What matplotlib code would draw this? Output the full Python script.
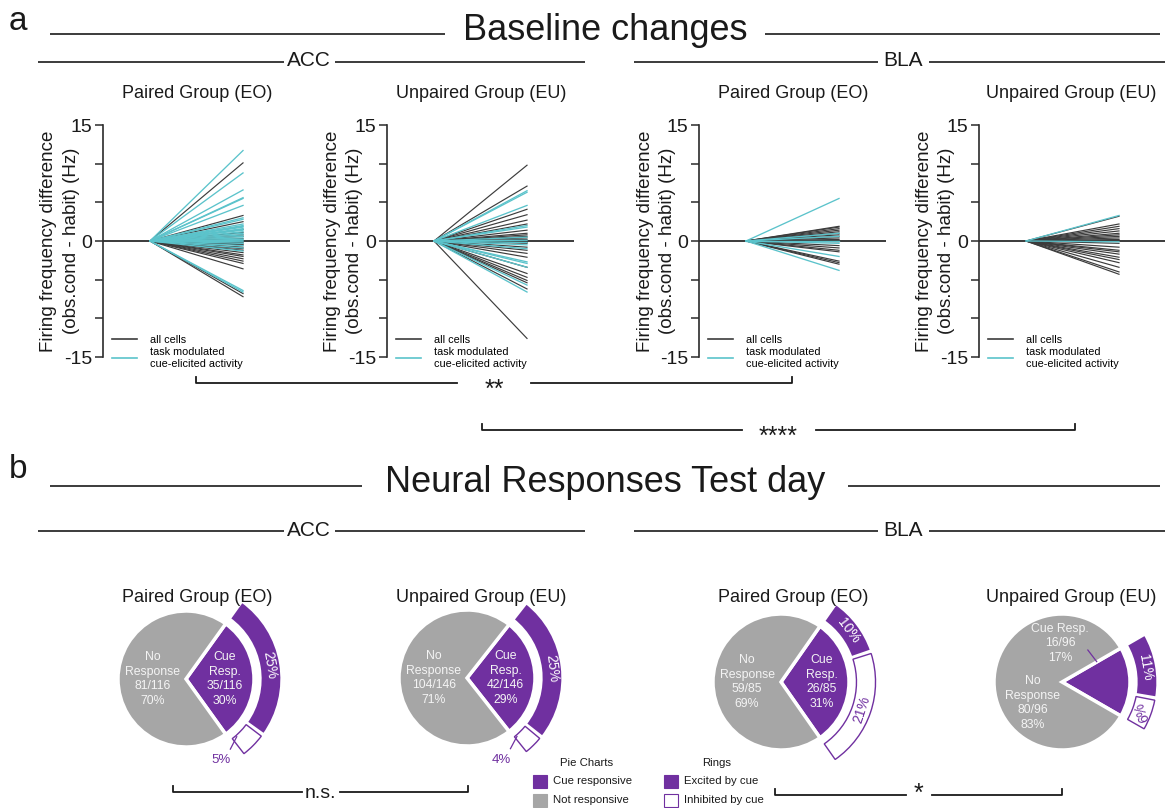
import numpy as np
import matplotlib
matplotlib.use("Agg")
import matplotlib.pyplot as plt
from matplotlib.lines import Line2D
from matplotlib.patches import Rectangle

plt.rcParams['font.family'] = ['Liberation Sans', 'DejaVu Sans']
plt.rcParams['axes.unicode_minus'] = False

W, H = 1165, 808

GRAY_LINE = "#3c3c3c"
TEAL = "#5bc3cb"
PURPLE = "#7030a0"
PIE_GRAY = "#a6a6a6"
INK = "#1a1a1a"

groups = ["Paired Group (EO)", "Unpaired Group (EU)",
          "Paired Group (EO)", "Unpaired Group (EU)"]

# end values of each cell's trace (Hz); every trace starts at 0
acc_eo_all = [10.1, 3.3, 2.5, 1.5, 1.1, 0.8, 0.6, 0.3, -0.2, -0.4, -0.5, -0.8,
              -1.0, -1.2, -1.5, -1.8, -2.0, -2.3, -2.6, -2.9, -3.6, -6.8, -7.2]
acc_eo_mod = [11.7, 8.8, 6.6, 5.6, 5.5, 4.6, 3.0, 2.8, 2.2, 2.0, 1.9, 1.8, 1.6,
              1.5, 1.4, 1.2, 1.0, 0.8, 0.6, 0.4, 0.2, 0.1, -0.1, -0.3, -0.6,
              -0.9, -1.3, -6.4, -6.6]
acc_eu_all = [9.8, 7.1, 4.1, 3.4, 2.7, 2.2, 1.4, 1.0, 0.8, 0.6, 0.4, 0.2, 0.0,
              -0.2, -0.3, -0.8, -1.2, -1.6, -2.1, -3.4, -4.2, -4.7, -5.1, -5.4,
              -6.2, -12.6]
acc_eu_mod = [6.5, 6.3, 4.6, 2.0, 1.8, 0.5, 0.1, -0.2, -0.5, -1.0, -2.7, -2.9,
              -3.4, -5.7, -6.6]
bla_eo_all = [1.9, 1.8, 1.6, 1.4, 1.2, 1.0, 0.8, 0.6, 0.4, 0.2, 0.1, -0.1,
              -0.6, -0.9, -1.2, -1.4, -2.6, -2.8, -3.0]
bla_eo_mod = [5.5, 1.0, 0.6, 0.0, -0.3, -2.0, -3.8]
bla_eu_all = [3.2, 2.2, 1.9, 1.6, 1.3, 1.0, 0.8, 0.6, 0.4, 0.2, 0.1, -0.3,
              -0.8, -1.2, -1.4, -1.7, -2.1, -2.4, -2.8, -3.4, -4.0, -4.3]
bla_eu_mod = [3.3, -0.1]

trace_sets = [(acc_eo_all, acc_eo_mod), (acc_eu_all, acc_eu_mod),
              (bla_eo_all, bla_eo_mod), (bla_eu_all, bla_eu_mod)]

ylabel_lines = ["Firing frequency difference", "(obs.cond - habit) (Hz)"]

# test day responses
cue_counts = [35, 42, 26, 16]
total_counts = [116, 146, 85, 96]
excited_pct = [25, 25, 10, 11]
inhibited_pct = [5, 4, 21, 6]

sig_labels = ["**", "****", "n.s.", "*"]


def px_rect(left, top, width, height):
    return [left / W, 1 - (top + height) / H, width / W, height / H]


fig = plt.figure(figsize=(W / 100, H / 100), dpi=100)

# ---- panel a: line plots ----
AX_W = 187
line_lefts = [103, 387, 699, 979]
for left, title, (all_vals, mod_vals) in zip(line_lefts, groups, trace_sets):
    ax = fig.add_axes(px_rect(left, 125, AX_W, 232))
    ax.axhline(0, color="#2b2b2b", lw=1.3, zorder=1)
    a = np.asarray(all_vals)
    m = np.asarray(mod_vals)
    ax.plot([[0] * len(a), [1] * len(a)], [np.zeros_like(a), a],
            color=GRAY_LINE, lw=0.85, zorder=2)
    ax.plot([[0] * len(m), [1] * len(m)], [np.zeros_like(m), m],
            color=TEAL, lw=0.95, zorder=3)
    ax.set_xlim(-0.505, 1.505)
    ax.set_ylim(-15, 15)
    for s in ["top", "right", "bottom"]:
        ax.spines[s].set_visible(False)
    ax.spines["left"].set_linewidth(1.2)
    ax.spines["left"].set_color("#2b2b2b")
    ax.set_xticks([])
    ax.set_yticks([-15, 0, 15])
    ax.set_yticks([-10, -5, 5, 10], minor=True)
    ax.tick_params(axis="y", which="both", length=6, width=1.1,
                   color="#2b2b2b", labelsize=14, labelcolor=INK, pad=2)
    # two-line axis title, one text per line
    for dx, line in zip((-54, -32), ylabel_lines):
        ax.text(dx / AX_W, 0.5, line, transform=ax.transAxes, rotation=90,
                ha="center", va="center", fontsize=13.5, color=INK)
    handles = [Line2D([], [], color=GRAY_LINE, lw=1.2),
               Line2D([], [], color=TEAL, lw=1.2)]
    ax.legend(handles, ["all cells", "task modulated\ncue-elicited activity"],
              loc="lower left", bbox_to_anchor=(0.05, -0.05), frameon=False,
              fontsize=7.8, handlelength=2.3, handletextpad=1.2,
              labelspacing=0.2, borderaxespad=0, borderpad=0)
    ax.patch.set_alpha(0)

# ---- panel b: pies with rings ----
R = 68.0
pie_centers = [(186, 679), (467, 678), (781, 682), (1062, 682)]
no_label_pos = [(-0.49, 0.0), (-0.49, 0.0), (-0.50, 0.0), (-0.43, -0.31)]
cue_label_pos = [(0.57, 0.0), (0.57, 0.0), (0.60, 0.0), (-0.03, 0.57)]
inh_inside = [False, False, True, True]
inh_rot = [0, 0, 72, 110]
pie_fs = 8.8
ring_fs = 10

for i, (cx, cy) in enumerate(pie_centers):
    half = 1.6 * R
    ax = fig.add_axes(px_rect(cx - half, cy - half, 2 * half, 2 * half))
    c, t = cue_counts[i], total_counts[i]
    start = c / t * 180
    ax.pie([c, t - c], colors=[PURPLE, PIE_GRAY], startangle=start,
           counterclock=False, radius=1.0,
           wedgeprops=dict(edgecolor="white", linewidth=2.5))
    ex, inh = excited_pct[i], inhibited_pct[i]
    ring, _ = ax.pie([ex, inh, 100 - ex - inh],
                     colors=[PURPLE, "white", "white"], startangle=start,
                     counterclock=False, radius=1.41,
                     wedgeprops=dict(width=0.32, edgecolor="white",
                                     linewidth=2.2))
    ring[2].set_visible(False)
    w = ring[1]
    w.set_edgecolor(PURPLE)
    w.set_linewidth(1.0)
    w.set_radius(1.39)
    w.set_width(0.28)
    w.set_theta1(w.theta1 + 1.5)
    w.set_theta2(w.theta2 - 1.5)

    ax.set_xlim(-1.6, 1.6)
    ax.set_ylim(-1.6, 1.6)
    ax.set_aspect("equal")

    pct_cue = round(100 * c / t)
    pct_no = round(100 * (t - c) / t)
    ax.text(*no_label_pos[i], f"No\nResponse\n{t - c}/{t}\n{pct_no}%",
            ha="center", va="center", color="#f4f4f4", fontsize=pie_fs,
            linespacing=1.3)
    if i == 3:
        cue_txt = f"Cue Resp.\n{c}/{t}\n{pct_cue}%"
        ax.plot([0.38, 0.51], [0.47, 0.30], color=PURPLE, lw=0.9)
    else:
        cue_txt = f"Cue\nResp.\n{c}/{t}\n{pct_cue}%"
    ax.text(*cue_label_pos[i], cue_txt, ha="center", va="center",
            color="#f4f4f4", fontsize=pie_fs, linespacing=1.3)

    rmid = 1.25
    ex_mid = start - ex * 3.6 / 2
    a_ex = np.radians(ex_mid)
    ax.text(rmid * np.cos(a_ex), rmid * np.sin(a_ex), f"{ex}%",
            rotation=ex_mid - 90, rotation_mode="anchor", ha="center",
            va="center", color="white", fontsize=ring_fs)
    inh_mid = start - ex * 3.6 - inh * 3.6 / 2
    if inh_inside[i]:
        a_in = np.radians(inh_mid)
        ax.text(rmid * np.cos(a_in), rmid * np.sin(a_in), f"{inh}%",
                rotation=inh_rot[i], rotation_mode="anchor", ha="center",
                va="center", color=PURPLE, fontsize=ring_fs)
    else:
        a_t = np.radians(inh_mid - 22)
        ax.text(1.30 * np.cos(a_t), 1.30 * np.sin(a_t), f"{inh}%",
                ha="center", va="center", color=PURPLE, fontsize=ring_fs - 0.5)
        a0, a1 = np.radians(inh_mid - 4), np.radians(inh_mid - 13)
        ax.plot([1.13 * np.cos(a0), 1.22 * np.cos(a1)],
                [1.13 * np.sin(a0), 1.22 * np.sin(a1)], color=PURPLE, lw=0.9)

# ---- headers, brackets, legend (pixel overlay) ----
ov = fig.add_axes([0, 0, 1, 1])
ov.set_xlim(0, W)
ov.set_ylim(H, 0)
ov.axis("off")


def hline(x0, x1, y, lw=1.2):
    ov.plot([x0, x1], [y, y], color=INK, lw=lw, solid_capstyle="butt")


ov.text(18, 22, "a", fontsize=24, ha="center", va="center", color=INK)
ov.text(605, 31, "Baseline changes", fontsize=26, ha="center", va="center",
        color=INK)
hline(50, 445, 34)
hline(765, 1160, 34)

ov.text(18, 470, "b", fontsize=24, ha="center", va="center", color=INK)
ov.text(605, 482, "Neural Responses Test day", fontsize=26, ha="center",
        va="center", color=INK)
hline(50, 362, 486)
hline(848, 1160, 486)

for y in (61, 530):
    ov.text(309, y, "ACC", fontsize=15, ha="center", va="center", color=INK)
    hline(38, 284, y + 1)
    hline(335, 585, y + 1)
    ov.text(903, y, "BLA", fontsize=15, ha="center", va="center", color=INK)
    hline(634, 878, y + 1)
    hline(929, 1165, y + 1)

title_x = [197, 481, 793, 1071]
for x, g in zip(title_x, groups):
    ov.text(x, 93, g, fontsize=13, ha="center", va="center", color=INK)
    ov.text(x, 597, g, fontsize=13, ha="center", va="center", color=INK)


def bracket(x0, x1, y, label, gap, size=18, dy=7):
    xm = (x0 + x1) / 2
    ov.plot([x0, x0, xm - gap], [y - 6, y, y], color=INK, lw=1.3)
    ov.plot([xm + gap, x1, x1], [y, y, y - 6], color=INK, lw=1.3)
    ov.text(xm, y + dy, label, fontsize=size, ha="center", va="center",
            color=INK)


bracket(196, 792, 383, sig_labels[0], 37)
bracket(482, 1075, 430, sig_labels[1], 37)
bracket(173, 468, 792, sig_labels[2], 19, size=14, dy=1)
bracket(775, 1062, 795, sig_labels[3], 13, dy=-1)

# legend for the pies and rings
ov.text(587, 763, "Pie Charts", fontsize=8.2, ha="center", va="center",
        color=INK)
ov.text(717, 763, "Rings", fontsize=8.2, ha="center", va="center", color=INK)
leg_rows = [(781, "Cue responsive", PURPLE, PURPLE, "Excited by cue", PURPLE, PURPLE),
            (800, "Not responsive", PIE_GRAY, PIE_GRAY, "Inhibited by cue", "white", PURPLE)]
for y, t1, f1, e1, t2, f2, e2 in leg_rows:
    ov.add_patch(Rectangle((533, y - 6.5), 14, 13, facecolor=f1, edgecolor=e1, lw=0.8))
    ov.text(553, y, t1, fontsize=8.2, ha="left", va="center", color=INK)
    ov.add_patch(Rectangle((664, y - 6.5), 14, 13, facecolor=f2, edgecolor=e2, lw=0.8))
    ov.text(684, y, t2, fontsize=8.2, ha="left", va="center", color=INK)

fig.savefig("out.png", dpi=100)
